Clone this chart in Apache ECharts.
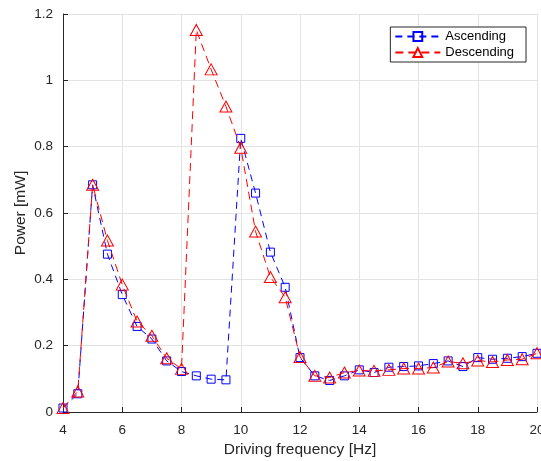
<!DOCTYPE html>
<html>
<head>
<meta charset="utf-8">
<script src="https://cdn.jsdelivr.net/npm/echarts@6/dist/echarts.min.js"></script>
<style>
html,body{margin:0;padding:0;background:#fff;}
#chart{width:541px;height:461px;}
</style>
</head>
<body>
<div id="chart"></div>
<script>
const freq = [4,4.5,5,5.5,6,6.5,7,7.5,8,8.5,9,9.5,10,10.5,11,11.5,12,12.5,13,13.5,14,14.5,15,15.5,16,16.5,17,17.5,18,18.5,19,19.5,20];
const ascending = [0.012,0.055,0.685,0.476,0.354,0.258,0.220,0.154,0.122,0.109,0.099,0.097,0.825,0.660,0.482,0.376,0.164,0.109,0.095,0.109,0.127,0.119,0.135,0.137,0.139,0.146,0.154,0.137,0.164,0.159,0.162,0.167,0.177];
const descending = [0.012,0.062,0.685,0.517,0.384,0.273,0.230,0.162,0.130,1.152,1.033,0.921,0.797,0.544,0.407,0.346,0.166,0.109,0.104,0.119,0.125,0.124,0.127,0.131,0.131,0.134,0.152,0.147,0.155,0.151,0.157,0.159,0.177];
const seriesNames = ['Ascending','Descending'];

const font = 'Liberation Sans, Arial, Helvetica, sans-serif';
const chart = echarts.init(document.getElementById('chart'), null, {renderer:'canvas'});
function pairs(ys){ return freq.map((x,i)=>[x, ys[i]]); }
chart.setOption({
  animation:false,
  backgroundColor:'#ffffff',
  grid:{left:63, right:4, top:14, bottom:49, containLabel:false, outerBoundsMode:'none'},
  legend:{
    right:15, top:27, orient:'vertical',
    backgroundColor:'#ffffff',
    borderColor:'#262626', borderWidth:1, borderRadius:0,
    padding:[3,12,3,4], itemGap:3, itemWidth:45, itemHeight:11,
    textStyle:{fontFamily:font, fontSize:13, color:'#000'},
    data: seriesNames
  },
  xAxis:{
    type:'value', min:4, max:20, interval:2,
    name:'Driving frequency [Hz]', nameLocation:'middle', nameGap:26,
    nameTextStyle:{fontFamily:font, fontSize:15.5, color:'#262626'},
    axisLine:{show:true, onZero:false, lineStyle:{color:'#262626', width:1}},
    axisTick:{show:true, inside:true, length:5, lineStyle:{color:'#262626'}},
    axisLabel:{fontFamily:font, fontSize:13.5, color:'#262626', margin:11, hideOverlap:false},
    splitLine:{show:true, lineStyle:{color:'#e3e3e3', width:1}}
  },
  yAxis:{
    type:'value', min:0, max:1.2, interval:0.2,
    name:'Power [mW]', nameLocation:'middle', nameGap:34, nameMoveOverlap:false,
    nameTextStyle:{fontFamily:font, fontSize:15.5, color:'#262626'},
    axisLine:{show:true, onZero:false, lineStyle:{color:'#262626', width:1}},
    axisTick:{show:true, inside:true, length:5, lineStyle:{color:'#262626'}},
    axisLabel:{fontFamily:font, fontSize:13.5, color:'#262626', margin:10},
    splitLine:{show:true, lineStyle:{color:'#e3e3e3', width:1}}
  },
  series:[
    {
      name:seriesNames[0], type:'line', data:pairs(ascending),
      symbol:'rect', symbolSize:8,
      itemStyle:{color:'rgba(0,0,0,0)', borderColor:'#0000ff', borderWidth:1},
      lineStyle:{color:'#0000ff', width:1, type:[7,5]},
      z:2
    },
    {
      name:seriesNames[1], type:'line', data:pairs(descending),
      symbol:'triangle', symbolSize:[12,11],
      itemStyle:{color:'rgba(0,0,0,0)', borderColor:'#ff0000', borderWidth:1},
      lineStyle:{color:'#ff0000', width:1, type:[8,5]},
      z:3
    }
  ]
});
</script>
</body>
</html>
